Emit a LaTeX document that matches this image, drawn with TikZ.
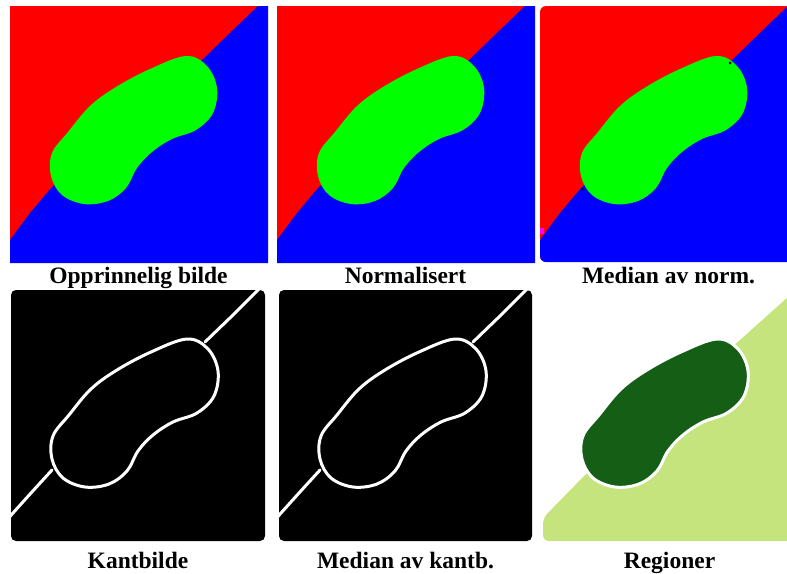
\documentclass[tikz,border=0pt]{standalone}
\usepackage{fontspec}
\setmainfont{Liberation Serif}

\definecolor{segred}{RGB}{255,0,0}
\definecolor{segblue}{RGB}{0,0,255}
\definecolor{seggreen}{RGB}{0,255,0}
\definecolor{segmagenta}{RGB}{255,0,255}
\definecolor{regdark}{RGB}{20,94,22}
\definecolor{reglight}{RGB}{197,228,125}

% outline of the cell, in pixels of one panel
\newcommand{\cellshape}{plot[smooth cycle, tension=0.6] coordinates {
  (176,50) (197,60) (207,82) (203,107) (186,124) (162,133)
  (142,146) (127,162) (116,182) (98,195) (74,198) (52,189)
  (41,170) (42,147) (58,126) (80,100) (106,81) (140,63)}}
% area below the border line
\newcommand{\lowerpart}{(0,234) -- (20,207) -- (41,182) -- (190,56)
  -- (223,24) -- (248,0) -- (258,0) -- (258,257) -- (0,257) -- cycle}

\begin{document}
\begin{tikzpicture}[
	x=1pt, y=-1pt,
	caption/.style={
		anchor=base,
		inner sep=0pt,
		font=\fontsize{23.5}{27}\selectfont\bfseries
	},
	edgeline/.style={white, line width=3pt, line cap=round, line join=round},
	edgepanel/.style={fill=black, rounded corners=5pt}
]
\useasboundingbox (0,0) rectangle (787,573);

% Opprinnelig bilde
\begin{scope}[shift={(10,6)}]
\fill[segred] (0,0) rectangle (257,256);
\fill[segblue] \lowerpart;
\fill[seggreen] \cellshape;
\end{scope}

% Normalisert
\begin{scope}[shift={(277,6)}]
\fill[segred] (0,0) rectangle (257,256);
\fill[segblue] \lowerpart;
\fill[seggreen] \cellshape;
\end{scope}

% Median av norm.
\begin{scope}[shift={(540,6)}]
\clip[rounded corners=6pt] (0,0) rectangle (257,256);
\fill[segred] (0,0) rectangle (257,256);
\fill[segblue] \lowerpart;
\fill[seggreen] \cellshape;
\fill[black] (190,57) circle (1.5);
\fill[black] (42,183) circle (1.5);
\fill[segmagenta] (0,222) rectangle (4,228);
\end{scope}

% Kantbilde
\begin{scope}[shift={(11,289)}]
\fill[edgepanel] (0,1) rectangle (254,252);
\draw[edgeline] \cellshape;
\draw[edgeline] (194,53) -- (222,26) -- (243,5) -- (252,-4);
\draw[edgeline] (41,181) -- (20,204) -- (2,224) -- (-4,231);
\end{scope}

% Median av kantb.
\begin{scope}[shift={(279,289)}]
\fill[edgepanel] (0,1) rectangle (253,252);
\draw[edgeline] \cellshape;
\draw[edgeline] (194,53) -- (222,26) -- (243,5) -- (252,-4);
\draw[edgeline] (41,181) -- (20,204) -- (2,224) -- (-4,231);
\end{scope}

% Regioner
\begin{scope}[shift={(541,289)}]
\fill[reglight, rounded corners=6pt] (2,229) -- (44,186) -- (199,51)
  -- (247,8) -- (262,-6) -- (262,252) -- (2,252) -- cycle;
\filldraw[fill=regdark, draw=white, line width=3pt] \cellshape;
\end{scope}

% Tekster
\node[caption] (cap1) at (138.5,283) {Opprinnelig bilde};
\node[caption] (cap2) at (405.5,283) {Normalisert};
\node[caption] (cap3) at (668.5,283) {Median av norm.};
\node[caption] (cap4) at (138,568) {Kantbilde};
\node[caption] (cap5) at (405.5,568) {Median av kantb.};
\node[caption] (cap6) at (669.5,568) {Regioner};

\end{tikzpicture}
\end{document}
